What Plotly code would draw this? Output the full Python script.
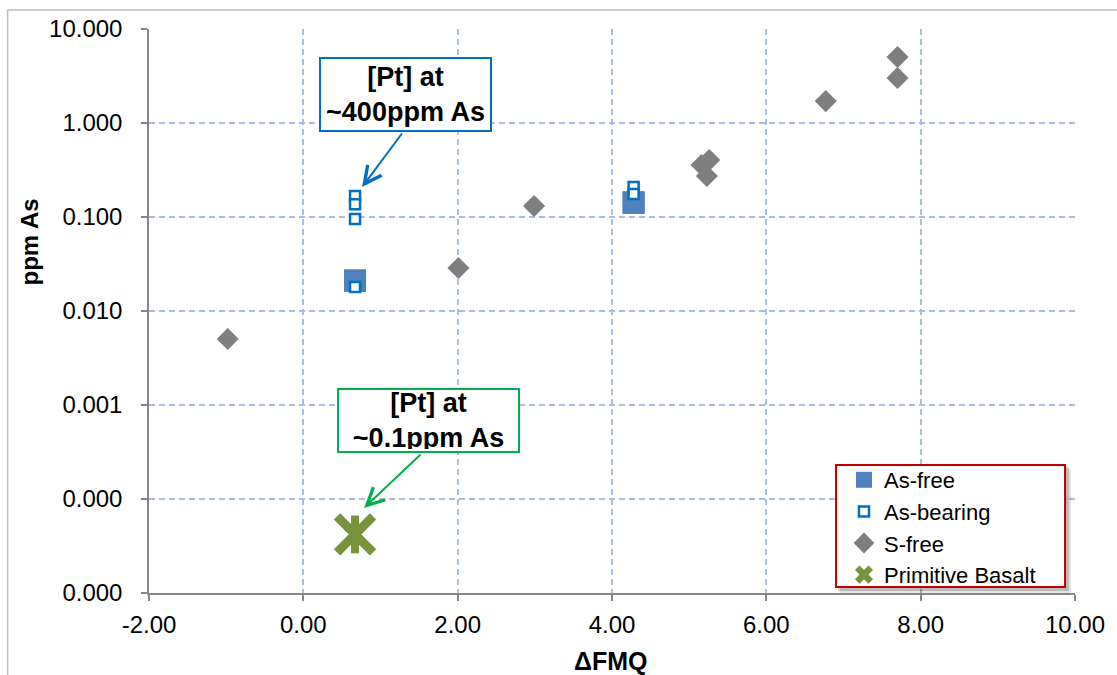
import plotly.graph_objects as go

# ΔFMQ and As concentration (ppm) for each experiment series
as_free_fmq = [0.67, 0.67, 4.28, 4.28]
as_free_ppm = [0.0209, 0.0212, 0.144, 0.141]

as_bearing_fmq = [0.67, 0.67, 0.67, 0.67, 4.28, 4.28]
as_bearing_ppm = [0.167, 0.137, 0.095, 0.018, 0.209, 0.176]

s_free_fmq = [-0.98, 2.01, 2.99, 5.16, 5.26, 5.23, 6.77, 7.70, 7.70]
s_free_ppm = [0.00504, 0.0287, 0.131, 0.357, 0.404, 0.273, 1.71, 5.04, 3.01]

basalt_fmq = [0.67]
basalt_ppm = [4.2e-5]

y_tickvals = [1e-5, 1e-4, 1e-3, 1e-2, 1e-1, 1, 10]
y_ticktext = ["0.000", "0.000", "0.001", "0.010", "0.100", "1.000", "10.000"]
x_tickvals = [-2, 0, 2, 4, 6, 8, 10]
x_ticktext = ["-2.00", "0.00", "2.00", "4.00", "6.00", "8.00", "10.00"]

FONT = "Liberation Sans, Arial, sans-serif"
GRID = "#A9BFDD"
AXIS = "#868686"

fig = go.Figure()

fig.add_trace(go.Scatter(
    x=as_free_fmq, y=as_free_ppm, mode="markers", name="As-free",
    marker=dict(symbol="square", size=22, color="#4F81BD", line=dict(width=0)),
))
fig.add_trace(go.Scatter(
    x=as_bearing_fmq, y=as_bearing_ppm, mode="markers", name="As-bearing",
    marker=dict(symbol="square", size=10, color="white",
                line=dict(width=2.5, color="#0070C0")),
))
fig.add_trace(go.Scatter(
    x=s_free_fmq, y=s_free_ppm, mode="markers", name="S-free",
    marker=dict(symbol="diamond", size=17, color="#7F7F7F", line=dict(width=0)),
))
fig.add_trace(go.Scatter(
    x=basalt_fmq, y=basalt_ppm, mode="markers", name="Primitive Basalt",
    marker=dict(symbol="x", size=20, color="#77933C", line=dict(width=0)),
))
# star-style marker: a heavy X with a vertical bar through it
fig.add_trace(go.Scatter(
    x=basalt_fmq, y=basalt_ppm, mode="markers", showlegend=False, hoverinfo="skip",
    marker=dict(symbol="x-thin-open", size=36, color="#77933C",
                line=dict(width=9, color="#77933C")),
))
fig.add_trace(go.Scatter(
    x=basalt_fmq, y=basalt_ppm, mode="markers", showlegend=False, hoverinfo="skip",
    marker=dict(symbol="line-ns-open", size=27, color="#77933C",
                line=dict(width=8, color="#77933C")),
))

axis_common = dict(
    showline=True, linecolor=AXIS, linewidth=1.5,
    ticks="outside", ticklen=6, tickwidth=1.5, tickcolor=AXIS,
    showgrid=True, gridcolor=GRID, gridwidth=1.5, griddash="6px,4px",
    zeroline=False, tickfont=dict(family=FONT, size=24, color="black"),
)

fig.update_xaxes(range=[-2, 10], tickvals=x_tickvals, ticktext=x_ticktext,
                 ticklabelstandoff=3, **axis_common)
fig.update_yaxes(type="log", range=[-5, 1], tickvals=y_tickvals, ticktext=y_ticktext,
                 ticklabelstandoff=14, **axis_common)

W, H = 1117, 675
L, R, T, B = 149, 38, 29, 82
pw, ph = W - L - R, H - T - B


def px(x):
    return (x - L) / pw


def py(y):
    return (H - B - y) / ph


BOLD = dict(family=FONT, color="black", weight="bold")

annotations = [
    dict(text="ppm As", xref="paper", yref="paper", x=px(29), y=py(242),
         xanchor="center", yanchor="middle",
         textangle=-90, showarrow=False, font=dict(size=24, **BOLD)),
    dict(text="ΔFMQ", xref="paper", yref="paper", x=px(613), y=py(661),
         xanchor="center", yanchor="middle",
         showarrow=False, font=dict(size=25, **BOLD)),
    # callout boxes
    dict(text="[Pt] at<br>~400ppm As", xref="paper", yref="paper",
         x=px(406.5), y=py(94.5), xanchor="center", yanchor="middle",
         showarrow=False, width=165, height=67,
         bgcolor="white", bordercolor="#0070C0", borderwidth=2, borderpad=2,
         font=dict(size=27, **BOLD)),
    dict(text="[Pt] at<br>~0.1ppm As", xref="paper", yref="paper",
         x=px(429.5), y=py(420.5), xanchor="center", yanchor="middle",
         showarrow=False, width=175, height=57,
         bgcolor="white", bordercolor="#00B050", borderwidth=2, borderpad=2,
         font=dict(size=27, **BOLD)),
    # callout arrows
    dict(text="", xref="paper", yref="paper", x=px(363), y=py(187),
         ax=41, ay=-55, showarrow=True, arrowhead=5, arrowsize=1.7,
         arrowwidth=2, arrowcolor="#0070C0"),
    dict(text="", xref="paper", yref="paper", x=px(365), y=py(508),
         ax=58, ay=-55, showarrow=True, arrowhead=5, arrowsize=1.7,
         arrowwidth=2, arrowcolor="#00B050"),
]

shapes = [
    # chart-area frame
    dict(type="rect", xref="paper", yref="paper", x0=px(7), x1=px(1130),
         y0=py(690), y1=py(10), line=dict(color="#BFBFBF", width=1.5), layer="below"),
    # legend drop shadow
    dict(type="rect", xref="paper", yref="paper", x0=px(843), x1=px(1075),
         y0=py(593), y1=py(469), line=dict(width=0),
         fillcolor="rgba(0,0,0,0.10)", layer="above"),
    dict(type="rect", xref="paper", yref="paper", x0=px(841), x1=px(1073),
         y0=py(591), y1=py(467), line=dict(width=0),
         fillcolor="rgba(0,0,0,0.18)", layer="above"),
    # legend frame
    dict(type="rect", xref="paper", yref="paper", x0=px(839), x1=px(1069),
         y0=py(587), y1=py(465), line=dict(color="#C00000", width=2),
         fillcolor="white", layer="above"),
]

fig.update_layout(
    width=W, height=H,
    margin=dict(l=L, r=R, t=T, b=B),
    paper_bgcolor="white", plot_bgcolor="white",
    font=dict(family=FONT, color="black"),
    showlegend=True,
    legend=dict(
        x=px(847), y=py(459), xanchor="left", yanchor="top",
        bgcolor="rgba(0,0,0,0)", borderwidth=0,
        font=dict(family=FONT, size=22, color="black"),
        itemsizing="trace",
    ),
    annotations=annotations,
    shapes=shapes,
)

fig.write_html("out.html")
